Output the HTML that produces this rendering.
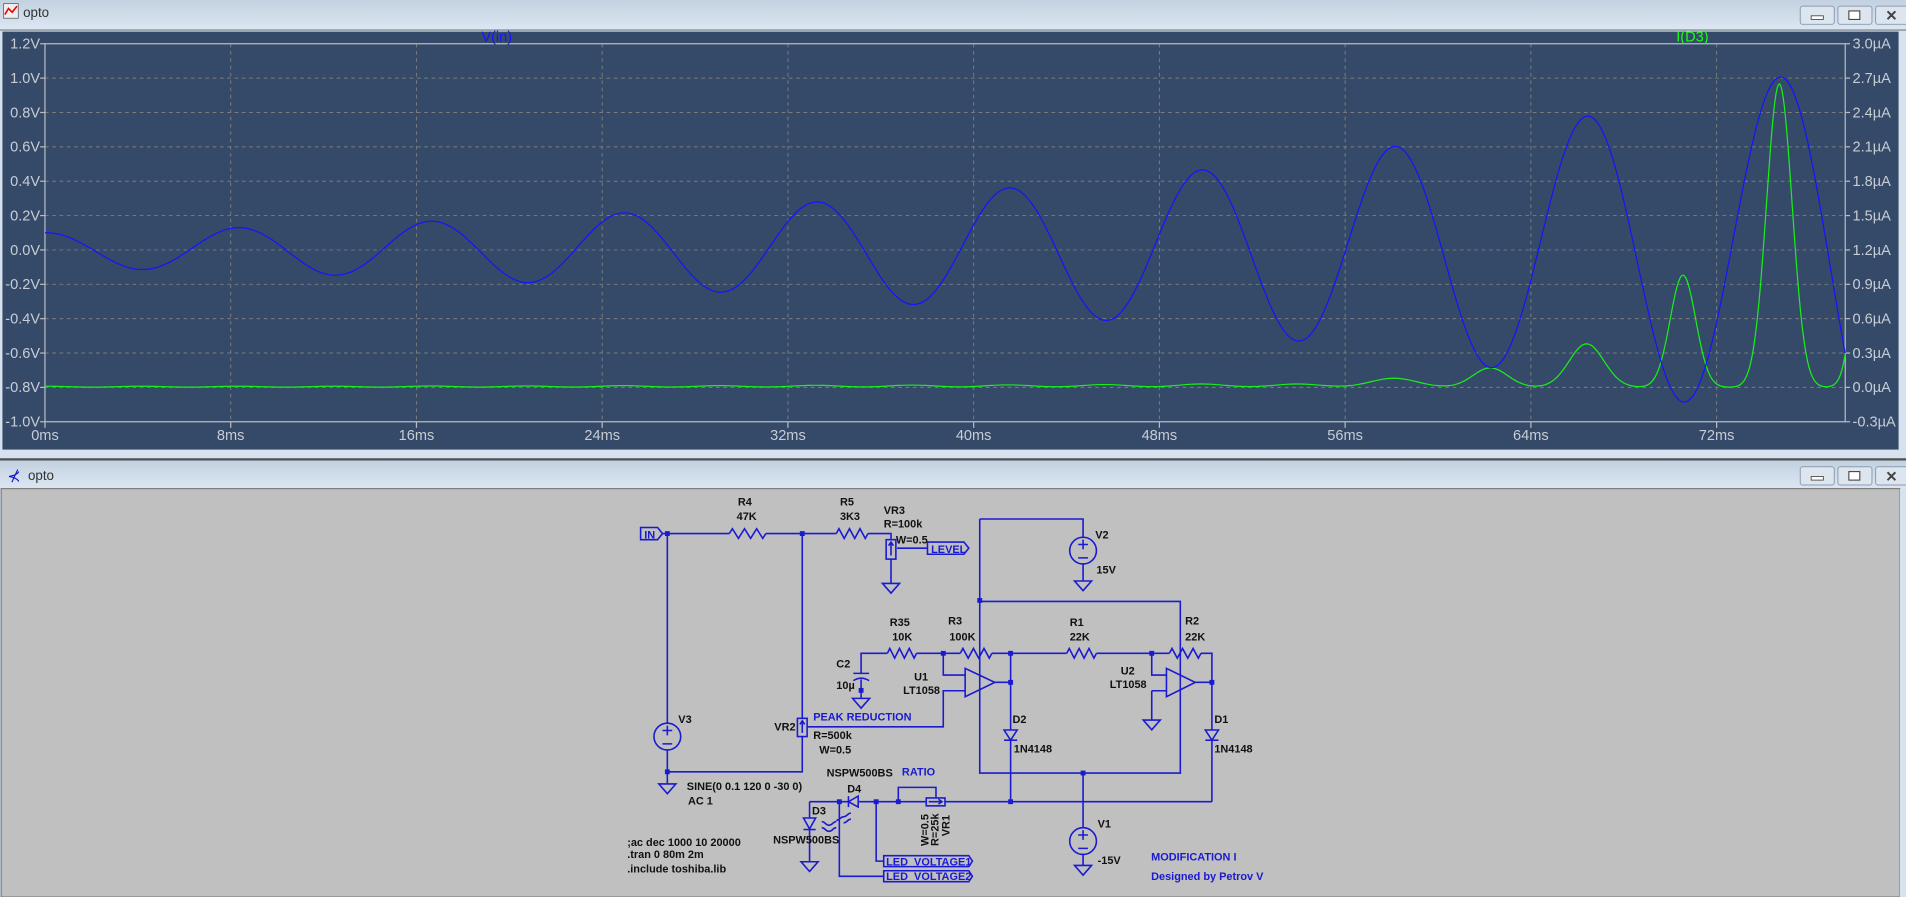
<!DOCTYPE html>
<html><head><meta charset="utf-8">
<style>
html,body{margin:0;padding:0;width:1906px;height:897px;overflow:hidden;background:#d6e2ee;}
svg{display:block}
.ax{font-family:"Liberation Sans Narrow","Liberation Sans",sans-serif;font-size:12px;fill:#c8ccd4}
.s{font-family:"Liberation Sans",sans-serif;font-size:9px;fill:#111;font-weight:bold}
.b{font-family:"Liberation Sans",sans-serif;font-size:9px;fill:#1a1ad0;font-weight:bold}
.w{stroke:#1a1ad0;stroke-width:1.3;fill:none}
.t{font-family:"Liberation Sans",sans-serif;font-size:11px;fill:#333}
</style></head><body>
<svg id="sv" width="1906" height="897" viewBox="0 0 1568 738" preserveAspectRatio="none" xmlns="http://www.w3.org/2000/svg">
<defs>
<linearGradient id="tb" x1="0" y1="0" x2="0" y2="1"><stop offset="0" stop-color="#c3d1e0"/><stop offset="1" stop-color="#dbe6f1"/></linearGradient>
</defs>
<rect x="0" y="0" width="1568" height="24" fill="url(#tb)"/>
<rect x="0" y="24" width="1568" height="1.5" fill="#9aa4ae"/>
<rect x="3" y="3" width="12" height="12" fill="#eee" stroke="#555" stroke-width="0.6"/>
<polyline points="4,12 7,7 10,10 14,5" stroke="#e00" fill="none" stroke-width="1.3"/>
<text x="19" y="14" class="t">opto</text>
<g stroke="#8a9bb0" fill="#dde6ef" stroke-width="0.8">
<rect x="1481" y="5" width="28" height="15" rx="2"/><rect x="1512" y="5" width="28" height="15" rx="2"/><rect x="1543" y="5" width="28" height="15" rx="2"/></g>
<rect x="1490" y="13" width="10" height="3" fill="#fff" stroke="#444" stroke-width="0.7"/>
<rect x="1521" y="9" width="9" height="7" fill="#fff" stroke="#444" stroke-width="0.9"/>
<text x="1551" y="17" font-family="Liberation Sans" font-size="12" font-weight="bold" fill="#444">✕</text>
<rect x="2" y="26" width="1560" height="344" fill="#354a69"/>
<rect x="1562" y="26" width="6" height="344" fill="#d6e2ee"/>
<g id="grid"></g>
<text x="396" y="34" class="ax" style="fill:#1414ff">V(in)</text>
<text x="1379" y="34" class="ax" style="fill:#18ff18">I(D3)</text>
<g id="curves"></g>
<rect x="0" y="370" width="1568" height="7" fill="#d6e2ee"/>
<rect x="0" y="377" width="1568" height="2" fill="#505458"/>
<rect x="0" y="379" width="1568" height="23" fill="url(#tb)"/>
<text x="6" y="396" font-family="Liberation Sans" font-size="13" fill="#1a1ad0">⊀</text>
<text x="23" y="395" class="t">opto</text>
<g stroke="#8a9bb0" fill="#dde6ef" stroke-width="0.8">
<rect x="1481" y="384" width="28" height="15" rx="2"/><rect x="1512" y="384" width="28" height="15" rx="2"/><rect x="1543" y="384" width="28" height="15" rx="2"/></g>
<rect x="1490" y="392" width="10" height="3" fill="#fff" stroke="#444" stroke-width="0.7"/>
<rect x="1521" y="388" width="9" height="7" fill="#fff" stroke="#444" stroke-width="0.9"/>
<text x="1551" y="396" font-family="Liberation Sans" font-size="12" font-weight="bold" fill="#444">✕</text>
<rect x="1" y="402" width="1562" height="336" fill="#c0c0c0" stroke="#808080" stroke-width="1"/>
<rect x="1563" y="402" width="5" height="336" fill="#d6e2ee"/>

<g class="w" id="sch">
<polygon points="527,434 541,434 545,439 541,444 527,444"/>
<polygon points="763,446 793,446 797,451 793,456 763,456"/>
<polygon points="727,704 797,704 800,708.5 797,713 727,713"/>
<polygon points="727,716.4 797,716.4 800,720.9 797,725.4 727,725.4"/>
<path d="M545 439H600M630 439H688M714 439H733V444M733 460V480M738 451H763"/>
<path d="M549 439V595M549 617V645M549 635H660V606M660 439V591M664 598H776V568.3H794"/>
<path d="M776 537.5V555.4H794M708.4 554V537.5H730M754 537.5H790M708.4 559V574.6M816 537.5H877.6M902 537.5H962M988 537.5H997V600.6M997 609V659.6M983.3 561.4H997"/>
<path d="M947.5 537.5V555.4H959.6M947.5 568.3H959.6M947.5 568.3V592.4M818.4 561.4H831.4M831.4 537.5V600.6M831.4 609V659.6"/>
<path d="M806 427H891V442M891 464V478M806 427V636H971V494.8H806M891 636V681M891 703V712"/>
<path d="M690.5 659.6H698M706 659.6H762M777.4 659.6H997M739 659.6V647.8H770V656M666 659.6H690.5M666 659.6V673M666 683V709M690.5 659.6V721H727M720.8 659.6V708.5H727"/>
<rect x="729" y="444" width="8" height="16"/><path d="M733 457V447M731 449L733 446L735 449"/>
<rect x="656" y="591" width="8" height="15"/><path d="M660 603V594M658 596L660 593L662 596"/>
<rect x="762" y="656.5" width="15.4" height="6.5"/><path d="M764 659.6H775M772 657.6L775 659.6L772 661.6"/>
<polygon points="794,549.9 794,573.2 818.4,561.4"/>
<polygon points="959.6,549.9 959.6,573.2 983.3,561.4"/>
<polygon points="826,600.6 836.8,600.6 831.4,609"/><path d="M826 609H836.8"/>
<polygon points="991.6,600.6 1002.4,600.6 997,609"/><path d="M991.6 609H1002.4"/>
<polygon points="706,655 706,664 698,659.6"/><path d="M698 655V664"/>
<polygon points="661,673 671,673 666,682"/><path d="M661 682.5H671"/>
<path d="M676 676c3 0 3 3 6 3s3-3 6-3M676 681c3 0 3 3 6 3s3-3 6-3M700 669c-3 0-3 3-6 3s-3 3-6 3M700 674c-3 0-3 3-6 3"/>
<path d="M702 554H715M702 560Q708.4 556 715 560"/>
<circle cx="549" cy="606" r="11"/><circle cx="891" cy="453" r="11"/><circle cx="891" cy="692" r="11"/>
<path d="M545 601H553M549 597V605M545 612H553M887 448H895M891 444V452M887 459H895M887 687H895M891 683V691M887 698H895"/>
<path id="gnd"/>
<path id="res"/>
</g>
<g fill="#1a1ad0" id="dots"></g>

<text x="530" y="443" class="b" font-size="8">IN</text>
<text x="766" y="455" class="b">LEVEL</text>
<text x="729" y="712" class="b">LED_VOLTAGE1</text>
<text x="729" y="724" class="b">LED_VOLTAGE2</text>
<text x="607" y="416" class="s">R4</text><text x="606" y="428" class="s">47K</text>
<text x="691" y="416" class="s">R5</text><text x="691" y="428" class="s">3K3</text>
<text x="727" y="423" class="s">VR3</text><text x="727" y="434" class="s">R=100k</text><text x="737" y="447" class="s">W=0.5</text>
<text x="558" y="595" class="s">V3</text>
<text x="637" y="601" class="s">VR2</text>
<text x="669" y="593" class="b">PEAK REDUCTION</text>
<text x="669" y="608" class="s">R=500k</text><text x="674" y="620" class="s">W=0.5</text>
<text x="565" y="650" class="s">SINE(0 0.1 120 0 -30 0)</text><text x="566" y="662" class="s">AC 1</text>
<text x="901" y="443" class="s">V2</text><text x="902" y="472" class="s">15V</text>
<text x="732" y="515" class="s">R35</text><text x="734" y="527" class="s">10K</text>
<text x="780" y="514" class="s">R3</text><text x="781" y="527" class="s">100K</text>
<text x="880" y="515" class="s">R1</text><text x="880" y="527" class="s">22K</text>
<text x="975" y="514" class="s">R2</text><text x="975" y="527" class="s">22K</text>
<text x="688" y="549" class="s">C2</text><text x="688" y="567" class="s">10µ</text>
<text x="752" y="560" class="s">U1</text><text x="743" y="571" class="s">LT1058</text>
<text x="922" y="555" class="s">U2</text><text x="913" y="566" class="s">LT1058</text>
<text x="833" y="595" class="s">D2</text><text x="834" y="619" class="s">1N4148</text>
<text x="999" y="595" class="s">D1</text><text x="999" y="619" class="s">1N4148</text>
<text x="680" y="639" class="s">NSPW500BS</text>
<text x="742" y="638" class="b">RATIO</text>
<text x="697" y="652" class="s">D4</text>
<text x="668" y="670" class="s">D3</text>
<text x="636" y="694" class="s">NSPW500BS</text>
<text x="903" y="681" class="s">V1</text><text x="903" y="711" class="s">-15V</text>
<text class="s" font-size="10" transform="translate(764,696) rotate(-90)">W=0.5</text>
<text class="s" font-size="10" transform="translate(772,696) rotate(-90)">R=25k</text>
<text class="s" font-size="10" transform="translate(781,688) rotate(-90)">VR1</text>
<text x="516" y="696" class="s">;ac dec 1000 10 20000</text>
<text x="516" y="706" class="s">.tran 0 80m 2m</text>
<text x="516" y="718" class="s">.include toshiba.lib</text>
<text x="947" y="708" class="b">MODIFICATION I</text>
<text x="947" y="724" class="b">Designed by Petrov V</text>
</svg>
<script>
(function(){
var NS="http://www.w3.org/2000/svg";
function el(t,a,p,txt){var e=document.createElementNS(NS,t);for(var k in a)e.setAttribute(k,a[k]);if(txt!==undefined)e.textContent=txt;p.appendChild(e);return e;}
var X0=37,X1=1518,Y0=36,Y1=347,pxms=19.1;
var g=document.getElementById('grid');
var vl=["1.2V","1.0V","0.8V","0.6V","0.4V","0.2V","0.0V","-0.2V","-0.4V","-0.6V","-0.8V","-1.0V"];
var il=["3.0µA","2.7µA","2.4µA","2.1µA","1.8µA","1.5µA","1.2µA","0.9µA","0.6µA","0.3µA","0.0µA","-0.3µA"];
var st=(Y1-Y0)/11;
for(var i=0;i<12;i++){var y=Y0+i*st;
 if(i>0&&i<11)el('line',{x1:X0,x2:X1,y1:y,y2:y,stroke:'#7c7c7c','stroke-dasharray':'3,3','stroke-width':0.8},g);
 el('line',{x1:X0-4,x2:X0,y1:y,y2:y,stroke:'#b8bcc4'},g);el('line',{x1:X1,x2:X1+4,y1:y,y2:y,stroke:'#b8bcc4'},g);
 el('text',{x:X0-4,y:y+4,'text-anchor':'end','class':'ax'},g,vl[i]);
 el('text',{x:X1+6,y:y+4,'class':'ax'},g,il[i]);}
for(var k=0;k<10;k++){var x=X0+k*8*pxms;
 if(k>0)el('line',{x1:x,x2:x,y1:Y0,y2:Y1,stroke:'#7c7c7c','stroke-dasharray':'3,3','stroke-width':0.8},g);
 el('line',{x1:x,x2:x,y1:Y1,y2:Y1+5,stroke:'#b8bcc4'},g);
 el('text',{x:x,y:Y1+15,'text-anchor':'middle','class':'ax'},g,(k*8)+"ms");}
el('path',{d:'M'+X0+' '+Y0+'H'+X1+'V'+Y1+'H'+X0+'Z',fill:'none',stroke:'#b8bcc4','stroke-width':1},g);
var c=document.getElementById('curves');
var T=8.3,vb="",gr="";
var hs=[0.01,0.01,0.01,0.01,0.012,0.012,0.015,0.015,0.018,0.02,0.022,0.025,0.03,0.03,0.08,0.17,0.38,0.98,2.65,5];
for(var px=X0;px<=X1;px+=1){var t=(px-X0)/pxms;
 var v=0.1*Math.exp(0.0309*t)*Math.cos(2*Math.PI*t/T);
 var y=Y0+(1.2-v)/2.2*(Y1-Y0);vb+=(px==X0?'M':'L')+px+' '+y.toFixed(1);
 var cur=0;for(var j=0;j<hs.length;j++){var tk=j*T/2;var s=hs[j]>0.5?0.55:(hs[j]>0.1?0.75:1.0);cur+=hs[j]*Math.exp(-Math.pow((t-tk)/s,2)/2);}
 var yg=Y0+(3.0-cur)/3.3*(Y1-Y0);gr+=(px==X0?'M':'L')+px+' '+yg.toFixed(1);}
el('path',{d:gr,fill:'none',stroke:'#18f018','stroke-width':1},c);
el('path',{d:vb,fill:'none',stroke:'#1414ff','stroke-width':1},c);
var rd="";[[600,630,439],[688,714,439],[730,754,537.5],[790,816,537.5],[877.6,902,537.5],[962,988,537.5]].forEach(function(r){
 var n=6,w=(r[1]-r[0])/n;rd+='M'+r[0]+' '+r[2];for(var i=0;i<n;i++){rd+='L'+(r[0]+w*(i+0.5))+' '+(r[2]+(i%2?4:-4));}rd+='L'+r[1]+' '+r[2];});
document.getElementById('res').setAttribute('d',rd);
var gd="";[[733,480],[549,645],[708.4,574.6],[947.5,592.4],[891,478],[891,712],[666,709]].forEach(function(p){
 gd+='M'+(p[0]-7)+' '+p[1]+'H'+(p[0]+7)+'L'+p[0]+' '+(p[1]+8)+'Z';});
document.getElementById('gnd').setAttribute('d',gd);
var dt=document.getElementById('dots');
[[549,439],[660,439],[549,635],[776,537.5],[831.4,537.5],[947.5,537.5],[831.4,561.4],[997,561.4],[806,494],[891,636],[831.4,659.6],[690.5,659.6],[720.8,659.6],[739,659.6],[708.4,568]].forEach(function(p){
 el('rect',{x:p[0]-2,y:p[1]-2,width:4,height:4},dt);});
})();
</script>
</body></html>
